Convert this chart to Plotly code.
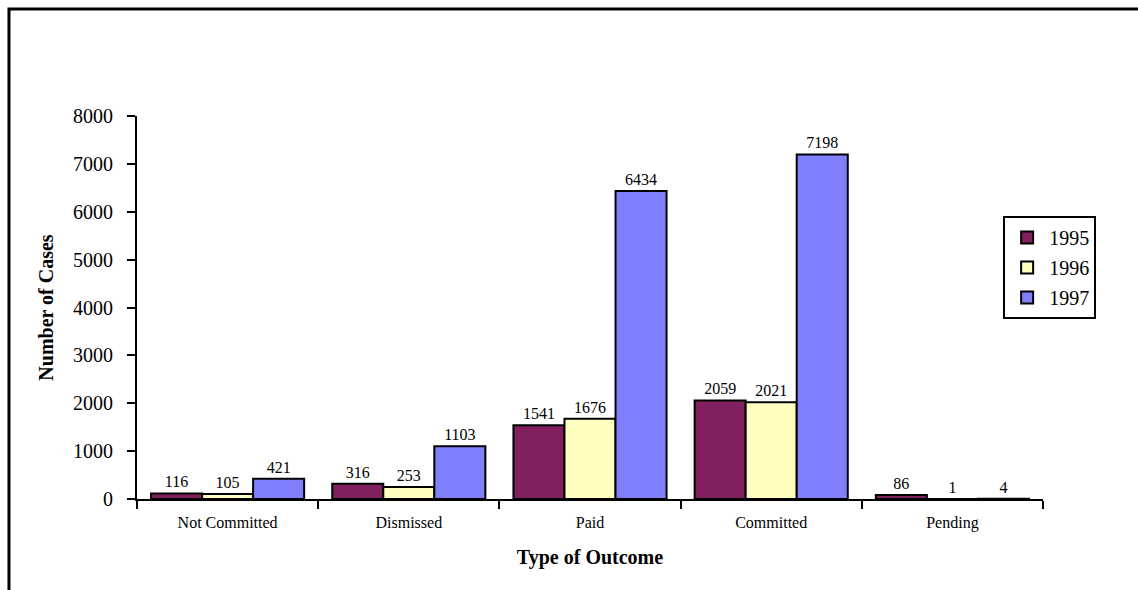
import plotly.graph_objects as go

outcomes = ["Not Committed", "Dismissed", "Paid", "Committed", "Pending"]
years = ["1995", "1996", "1997"]
cases_1995 = [116, 316, 1541, 2059, 86]
cases_1996 = [105, 253, 1676, 2021, 1]
cases_1997 = [421, 1103, 6434, 7198, 4]
y_ticks = [0, 1000, 2000, 3000, 4000, 5000, 6000, 7000, 8000]

colors = ["#80205F", "#FFFFC0", "#8080FF"]
serif = "Liberation Serif"

fig = go.Figure()
for i, (year, vals) in enumerate(zip(years, [cases_1995, cases_1996, cases_1997])):
    fig.add_trace(go.Bar(
        x=outcomes, y=vals, name=year,
        marker=dict(color=colors[i], line=dict(color="black", width=2)),
        text=[str(v) for v in vals], textposition="outside",
        textfont=dict(family=serif, size=16, color="black"),
        cliponaxis=False, legendgroup=year,
    ))

fig.update_layout(
    width=1138, height=590,
    margin=dict(l=137, r=95, t=116, b=91),
    barmode="group", bargap=0.155, bargroupgap=0,
    plot_bgcolor="white", paper_bgcolor="white",
    font=dict(family=serif, color="black"),
    showlegend=True,
    legend=dict(
        x=0.956, y=0.739, xanchor="left", yanchor="top",
        bordercolor="black", borderwidth=2,
        font=dict(family=serif, size=20, color="black"),
        traceorder="grouped", tracegroupgap=1,
        itemwidth=34, entrywidth=110, entrywidthmode="pixels",
    ),
    xaxis=dict(
        type="category", tickson="boundaries",
        ticks="outside", ticklen=8, tickwidth=2, tickcolor="black",
        showline=True, linecolor="black", linewidth=2,
        showgrid=False, ticklabelstandoff=8,
        tickfont=dict(family=serif, size=16, color="black"),
        title=dict(text="<b>Type of Outcome</b>",
                   font=dict(family=serif, size=20, color="black"), standoff=19),
    ),
    yaxis=dict(
        range=[0, 8000], tickvals=y_ticks,
        ticks="outside", ticklen=8, tickwidth=2, tickcolor="black",
        showline=True, linecolor="black", linewidth=2,
        showgrid=False, zeroline=False, ticklabelstandoff=10,
        tickfont=dict(family=serif, size=20, color="black"),
        title=dict(text="<b>Number of Cases</b>",
                   font=dict(family=serif, size=20, color="black"), standoff=14),
    ),
    xaxis2=dict(
        overlaying="x", anchor="y", range=[-0.5, 4.5],
        tick0=-0.5, dtick=1, ticks="inside", ticklen=8, tickwidth=2,
        tickcolor="black", showticklabels=False, showgrid=False,
        showline=False, zeroline=False,
    ),
    yaxis2=dict(
        overlaying="y", anchor="x", side="left", range=[0, 8000],
        tickvals=y_ticks, ticks="inside", ticklen=8, tickwidth=2,
        tickcolor="black", showticklabels=False, showgrid=False,
        showline=False, zeroline=False,
    ),
    shapes=[dict(
        type="rect", xref="paper", yref="paper",
        x0=-0.1413, x1=1.3, y0=-0.5, y1=1.2794,
        line=dict(color="black", width=3),
    )],
)

fig.write_html(
    "out.html",
    config={"displayModeBar": False},
    post_script="document.body.style.margin='0';document.body.style.overflow='hidden';",
)
